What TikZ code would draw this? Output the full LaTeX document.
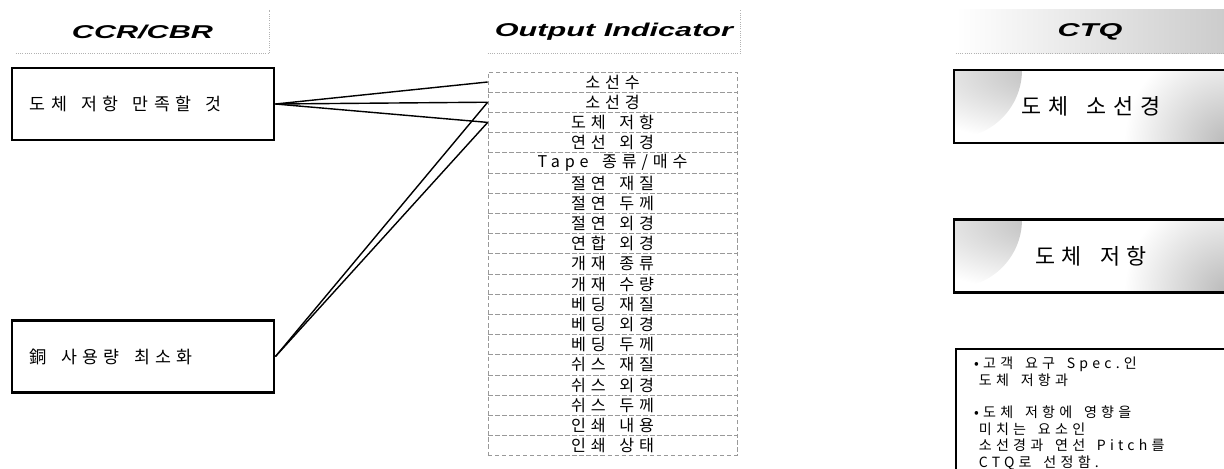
\documentclass[tikz,border=0pt]{standalone}
\usepackage{fontspec}
\setmainfont[WordSpace=1.6,LetterSpace=30]{Noto Sans CJK KR}
\newfontfamily\headfont[FakeStretch=1.65]{Liberation Sans}
\begin{document}
\begin{tikzpicture}[x=0.025cm, y=-0.025cm,
  head/.style={font=\headfont\bfseries\itshape\fontsize{13.2}{15}\selectfont, minimum height=1.075cm, inner sep=0pt},
  hline/.style={draw=gray!60, densely dotted, line width=0.6pt},
  ccrbox/.style={draw, line width=2pt, minimum width=6.55cm, minimum height=1.8cm, inner xsep=0.45cm, font=\fontsize{12.3}{14}\selectfont},
  rowbox/.style={draw=gray!80, densely dashed, line width=0.4pt, minimum width=6.225cm, minimum height=0.505cm, inner sep=0pt, font=\fontsize{11.5}{12}\selectfont},
  ctqbox/.style={draw, line width=2pt, minimum width=6.85cm, minimum height=1.825cm, font=\fontsize{15.5}{18}\selectfont,
    path picture={\shade[inner color=gray!55, outer color=white] (path picture bounding box.north west) circle (1.7cm);
                  \shade[inner color=gray!55, outer color=white] (path picture bounding box.south east) circle (2.6cm);}},
  ctqnote/.style={draw, line width=1.6pt, inner xsep=0.45cm, inner ysep=0.2cm, font=\fontsize{10}{11.8}\selectfont},
  link/.style={line width=1pt}]
\useasboundingbox (0,0) rectangle (1224,468);
\clip (0,0) rectangle (1224,468);

% column heads
\node[head, minimum width=6.325cm] (h1) at (142.5,31.5) {CCR/CBR};
\node[head, minimum width=6.3cm] (h2) at (614,31.5) {Output Indicator};
\node[head, minimum width=6.7cm, path picture={\shade[left color=white, right color=gray!40] (path picture bounding box.south west) rectangle (path picture bounding box.north east);}] (h3) at (1090,31.5) {CTQ};
\draw[hline] (h1.south west) -- (h1.south east) -- (h1.north east);
\draw[hline] (h2.south west) -- (h2.south east) -- (h2.north east);
\draw[hline] (h3.south west) -- (h3.south east);

% CCR/CBR
\node[ccrbox] (b1) at (143,104) {\makebox[5.65cm][l]{도체 저항 만족할 것}};
\node[ccrbox] (b2) at (143,356.5) {\makebox[5.65cm][l]{銅 사용량 최소화}};

% output indicators
\foreach \t [count=\i] in {소선수, 소선경, 도체 저항, 연선 외경, Tape 종류/매수, 절연 재질, 절연 두께, 절연 외경, 연합 외경, 개재 종류, 개재 수량, 베딩 재질, 베딩 외경, 베딩 두께, 쉬스 재질, 쉬스 외경, 쉬스 두께, 인쇄 내용, 인쇄 상태}
  \node[rowbox] (r\i) at (612.5,{61.8+20.2*\i}) {\t};

% CTQ
\node[ctqbox] (c1) at (1091,106.5) {도체 소선경};
\node[ctqbox] (c2) at (1091,256) {도체 저항};
\node[ctqnote, anchor=north west] (c3) at (955,348) {\makebox[6.2cm][l]{\begin{tabular}{@{}l@{}}•고객 요구 Spec.인\\\hphantom{•}도체 저항과\\[11pt]•도체 저항에 영향을\\\hphantom{•}미치는 요소인\\\hphantom{•}소선경과 연선 Pitch를\\\hphantom{•}CTQ로 선정함.\end{tabular}}};

\foreach \r in {1,2,3} \draw[link] (b1.east) -- (r\r.west);
\foreach \r in {2,3} \draw[link] (b2.east) -- (r\r.west);
\end{tikzpicture}
\end{document}
